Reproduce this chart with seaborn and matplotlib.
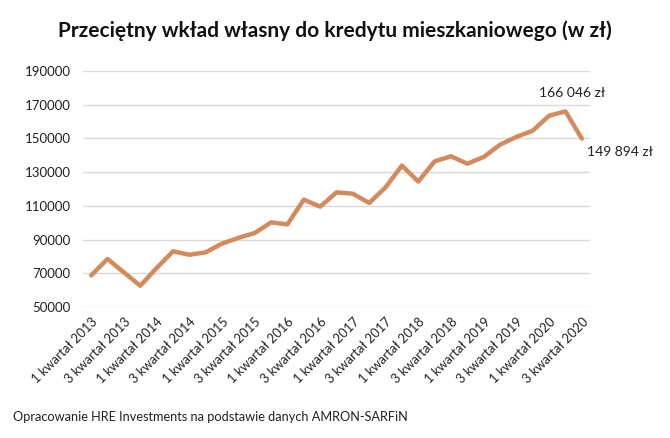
import matplotlib
matplotlib.use("Agg")
import matplotlib.pyplot as plt
import seaborn as sns
import pandas as pd
import numpy as np

quarters = [f"{q} kwartał {y}" for y in range(2013, 2021) for q in (1, 2, 3, 4)][:31]
values = [68750, 78500, 70500, 62600, 73100, 83000, 81000, 82400, 87600, 91000,
          93900, 100200, 99000, 113700, 109500, 118000, 117200, 111700, 121000, 133900,
          124400, 136400, 139400, 135000, 139000, 146300, 150900, 154600, 163500, 166046,
          149894]
yticks = [50000, 70000, 90000, 110000, 130000, 150000, 170000, 190000]
title = "Przeciętny wkład własny do kredytu mieszkaniowego (w zł)"
source = "Opracowanie HRE Investments na podstawie danych AMRON-SARFiN"
labels_pts = {29: "166 046 zł", 30: "149 894 zł"}

sns.set_theme(style="white")
plt.rcParams['font.family'] = ['Lato', 'DejaVu Sans']

df = pd.DataFrame({"idx": np.arange(len(values)), "val": values, "q": quarters})

fig = plt.figure(figsize=(6.7, 4.38), dpi=100)
ax = fig.add_axes([0.1239, 0.2991, 0.8806 - 0.1239, 0.8379 - 0.2991])
sns.lineplot(data=df, x="idx", y="val", ax=ax, color="#D38B5D", linewidth=3.2)

ax.set_xlim(-0.5, len(values) - 0.5)
ax.set_ylim(50000, 190000)
ax.set_yticks(yticks)
ax.set_yticklabels([str(t) for t in yticks], fontsize=9.5, color="#222222")
tick_idx = list(range(0, len(values), 2))
ax.set_xticks(tick_idx)
ax.set_xticklabels([quarters[i] for i in tick_idx], rotation=45, ha="right",
                   rotation_mode="anchor", fontsize=9.3, color="#222222")
ax.tick_params(axis="x", pad=6, length=0)
ax.tick_params(axis="y", pad=9, length=0)
ax.yaxis.grid(True, color="#D9D9D9", linewidth=1)
ax.xaxis.grid(False)
for s in ax.spines.values():
    s.set_visible(False)
ax.set_xlabel("")
ax.set_ylabel("")

ax.annotate(labels_pts[29], (29, values[29]), xytext=(5, 9), textcoords="offset points",
            ha="center", va="bottom", fontsize=10, color="#222222")
ax.annotate(labels_pts[30], (30, values[30]), xytext=(4, -5), textcoords="offset points",
            ha="left", va="top", fontsize=10, color="#222222", annotation_clip=False)

fig.text(0.5, 0.93, title, ha="center", va="center", fontsize=15, fontweight="bold", color="#111111")
fig.text(0.02, 0.048, source, ha="left", va="center", fontsize=9.2, color="#222222")

fig.savefig("out.png", dpi=100)
